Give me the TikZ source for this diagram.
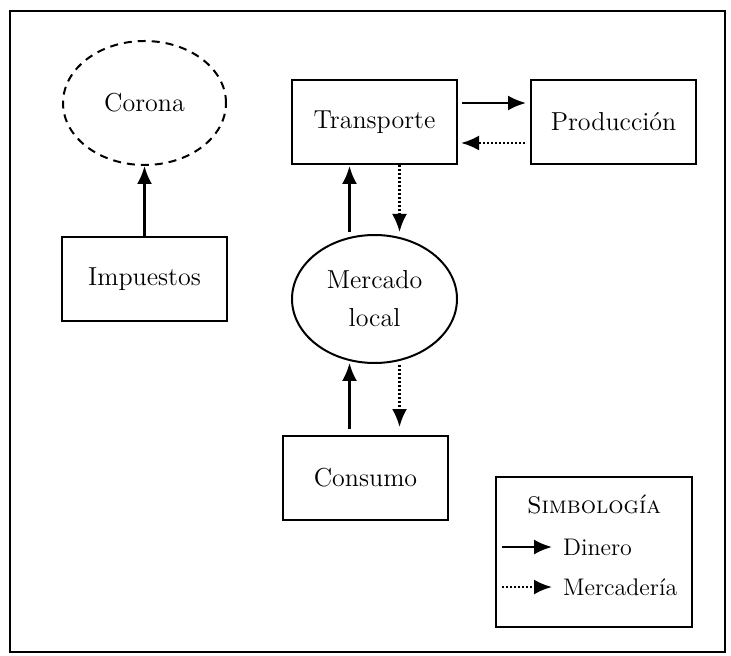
\documentclass[tikz,border=0pt]{standalone}
\usepackage{tikz}
\usetikzlibrary{arrows.meta,positioning,shapes.geometric}

\newcommand{\letra}{\fontsize{13}{19}\selectfont}

\begin{document}
\begin{tikzpicture}[
  x=0.5pt, y=-0.5pt,
  caja/.style={rectangle, draw, line width=1pt, minimum width=82.5pt, minimum height=42pt, align=center, font=\letra},
  elipse/.style={ellipse, draw, line width=1pt, minimum width=82.5pt, minimum height=64pt, inner sep=0pt, align=center, font=\letra},
  din/.style={-{Latex[length=9pt,width=7.5pt]}, line width=1.2pt},
  merc/.style={-{Latex[length=9pt,width=7.5pt]}, line width=1.3pt, dash pattern=on 1pt off 1pt}
]
\useasboundingbox (0,0) rectangle (731,656);
\draw[line width=1.2pt] (10,11) rectangle (725,652);

\node[elipse, dash pattern=on 4pt off 3pt, minimum width=81.5pt, minimum height=62pt] (corona) at (144.5,103) {Corona};
\node[caja, below=35pt of corona] (impuestos) {Impuestos};
\node[caja] (transporte) at (374.5,122) {Transporte};
\node[caja, right=36pt of transporte] (produccion) {Producción};
\node[elipse, below=34.5pt of transporte] (mercado) {Mercado\\local};
\node[caja, below=35.5pt of mercado, xshift=-4.5pt] (consumo) {Consumo};

% simbologia
\node[rectangle, draw, line width=1pt, minimum width=98pt, minimum height=75pt] (leyenda) at (594,552) {};
\node[font=\large, below=6pt of leyenda.north] (titulo) {\textsc{Simbología}};
\node[font=\large, anchor=west] (dinero) at (556,547) {Dinero};
\node[font=\large, anchor=west] (mercaderia) at (556,587) {Mercadería};
\coordinate (d0) at (502,547);
\coordinate (m0) at (502,587);

\draw[din] (impuestos) -- (corona);
\draw[din, shorten <=2pt, shorten >=2pt] ([yshift=9.5pt]transporte.east) -- ([yshift=9.5pt]produccion.west);
\draw[merc, shorten <=2.5pt, shorten >=1.5pt] ([yshift=-10.5pt]produccion.west) -- ([yshift=-10.5pt]transporte.west -| transporte.east);
\draw[din, shorten <=1pt, shorten >=0.5pt] ([xshift=-12.5pt]mercado.north) -- ([xshift=-12.5pt]transporte.south);
\draw[merc, shorten >=1pt] ([xshift=12.5pt]transporte.south) -- ([xshift=12.5pt]mercado.north);
\coordinate (mi) at ([xshift=-12.5pt, yshift=1.5pt]mercado.south);
\coordinate (md) at ([xshift=12.5pt]mercado.south);
\draw[din, shorten <=3pt, shorten >=1pt] (consumo.north -| mi) -- (mi);
\draw[merc, shorten <=0.5pt, shorten >=4pt] (md) -- (consumo.north -| md);
\draw[din, shorten >=2pt] (d0) -- (dinero.west);
\draw[merc, shorten >=2pt] (m0) -- (mercaderia.west);
\end{tikzpicture}
\end{document}
